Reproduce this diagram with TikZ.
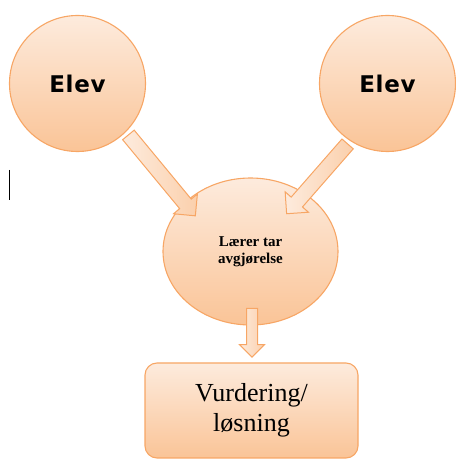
\documentclass[tikz,border=0pt]{standalone}
\usepackage{fontspec}
\setmainfont{Liberation Serif}
\newfontfamily\elevfont[LetterSpace=3]{DejaVu Sans}
\usetikzlibrary{shapes.geometric, shapes.arrows, calc}
\definecolor{peachtop}{HTML}{FDEBDD}
\definecolor{peachbot}{HTML}{FAC497}
\definecolor{peachline}{HTML}{F7A665}

\tikzset{
  bubble/.style={draw=peachline, line width=1.1pt, top color=peachtop, bottom color=peachbot},
  elev/.style={bubble, circle, minimum size=136pt, font=\elevfont\bfseries\fontsize{23}{27}\selectfont},
  fatarrow/.style={single arrow, draw=peachline, line width=1pt, left color=peachtop,
    right color=peachbot!70!peachtop, inner xsep=0pt}
}

\begin{document}
\begin{tikzpicture}[x=1pt, y=1pt]
  \useasboundingbox (0,0) rectangle (456,459);

  % teacher in the middle
  \node[bubble, ellipse, minimum width=175pt, minimum height=147pt, align=center,
        font=\fontsize{15}{17}\selectfont\bfseries] (laerer) at (250.5,207.5) {Lærer tar\\avgjørelse};

  % the two pupils
  \node[elev] (elevA) at (77.5,375.5) {Elev};
  \node[elev] (elevB) at (387.5,375.5) {Elev};

  \node[bubble, rectangle, rounded corners=12pt, minimum width=213pt, minimum height=95pt,
        align=center, font=\fontsize{26}{30}\selectfont] (vurdering) at (251.5,48.5) {Vurdering/\\løsning};

  % arrow ends
  \coordinate (tipA) at (193,246);
  \coordinate (tipB) at (289,248);
  \coordinate (startC) at ($(laerer.south)+(1.5,20)$);
  \coordinate (tipC) at ($(vurdering.north)+(0.5,8)$);

  % block arrows
  \foreach \from/\to/\shaft/\head in {elevA.-45/tipA/7pt/8pt, elevB.-123/tipB/7pt/8pt, startC/tipC/5pt/7pt}
    \path let \p1=($(\to)-(\from)$), \n1={atan2(\y1,\x1)}, \n2={veclen(\x1,\y1)} in
      node[fatarrow, inner ysep=\shaft, single arrow head extend=\head,
           rotate=\n1, minimum height=\n2] at ($(\from)!0.5!(\to)$) {};

  % text cursor
  \draw[line width=0.9pt] (9,289) -- (9,259);
\end{tikzpicture}
\end{document}
